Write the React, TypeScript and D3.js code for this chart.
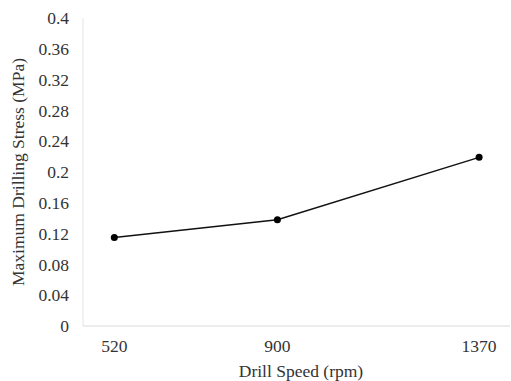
import React, { useEffect, useRef } from "react";
import * as d3 from "d3";

const speeds = [520, 900, 1370];
const stress = [0.115, 0.138, 0.219];
const yTicks = [0, 0.04, 0.08, 0.12, 0.16, 0.2, 0.24, 0.28, 0.32, 0.36, 0.4];

export default function App() {
  const ref = useRef<SVGSVGElement>(null);

  useEffect(() => {
    const width = 511, height = 381;
    const margin = { top: 18, right: 1, bottom: 55, left: 83 };
    const svg = d3.select(ref.current);
    svg.selectAll("*").remove();

    const x = d3.scaleLinear().domain([447, 1442]).range([margin.left, width - margin.right]);
    const y = d3.scaleLinear().domain([0, 0.4]).range([height - margin.bottom, margin.top]);
    const font = "Liberation Serif";

    // light gray axis lines
    svg.append("line")
      .attr("x1", margin.left).attr("x2", margin.left)
      .attr("y1", y(0.4)).attr("y2", y(0))
      .attr("stroke", "#e4e4e4").attr("stroke-width", 1);
    svg.append("line")
      .attr("x1", margin.left).attr("x2", width - margin.right)
      .attr("y1", y(0)).attr("y2", y(0))
      .attr("stroke", "#d9d9d9").attr("stroke-width", 1);

    svg.append("g").selectAll("text").data(yTicks).enter().append("text")
      .attr("x", 69).attr("y", d => y(d)).attr("dy", "0.35em")
      .attr("text-anchor", "end").attr("font-family", font).attr("font-size", 17.5)
      .attr("fill", "#333")
      .text(d => String(d));

    svg.append("g").selectAll("text").data(speeds).enter().append("text")
      .attr("x", d => x(d)).attr("y", 346).attr("dy", "0.35em")
      .attr("text-anchor", "middle").attr("font-family", font).attr("font-size", 17.5)
      .attr("fill", "#333")
      .text(d => String(d));

    const pts = speeds.map((s, i) => [s, stress[i]] as [number, number]);
    svg.append("path").datum(pts)
      .attr("d", d3.line<[number, number]>().x(d => x(d[0])).y(d => y(d[1])))
      .attr("fill", "none").attr("stroke", "#111").attr("stroke-width", 1.5);
    svg.append("g").selectAll("circle").data(pts).enter().append("circle")
      .attr("cx", d => x(d[0])).attr("cy", d => y(d[1])).attr("r", 3.5)
      .attr("fill", "#000");

    svg.append("text")
      .attr("x", 301).attr("y", 371).attr("dy", "0.35em")
      .attr("text-anchor", "middle").attr("font-family", font).attr("font-size", 17.5)
      .attr("fill", "#333").text("Drill Speed (rpm)");
    svg.append("text")
      .attr("transform", `translate(18,${(y(0) + y(0.4)) / 2}) rotate(-90)`)
      .attr("dy", "0.35em")
      .attr("text-anchor", "middle").attr("font-family", font).attr("font-size", 17.5)
      .attr("fill", "#333").text("Maximum Drilling Stress (MPa)");
  }, []);

  return (
    <div>
      <svg ref={ref} width={511} height={381} style={{ position: "absolute", left: 0, top: 0 }}></svg>
    </div>
  );
}
